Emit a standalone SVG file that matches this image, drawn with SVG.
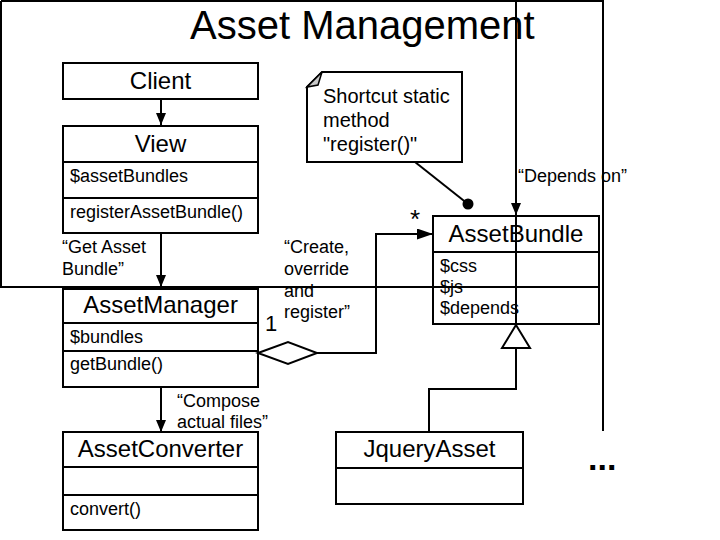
<svg xmlns="http://www.w3.org/2000/svg" width="720" height="540" viewBox="0 0 720 540">
<style>
text{font-family:"Liberation Sans",Arial,sans-serif;fill:#000}
.box{fill:#fff;stroke:#000;stroke-width:2}
.sep{stroke:#000;stroke-width:2}
.cn{font-size:24px;text-anchor:middle}
.at{font-size:18px}
.lbl{font-size:18px}
.ln{fill:none;stroke:#000;stroke-width:2}
</style>
<defs>
<marker id="arr" viewBox="0 0 12 10" refX="12" refY="5" markerWidth="12" markerHeight="10" markerUnits="userSpaceOnUse" orient="auto">
<path d="M0,0 L12,5 L0,10 Z" fill="#000"/>
</marker>
<marker id="arrL" viewBox="0 0 16 11" refX="16" refY="5.5" markerWidth="16" markerHeight="11" markerUnits="userSpaceOnUse" orient="auto">
<path d="M0,0 L16,5.5 L0,11 Z" fill="#000"/>
</marker>
</defs>
<rect width="720" height="540" fill="#fff"/>
<text x="190" y="39" style="font-size:40px">Asset Management</text>

<g id="client">
<rect class="box" x="63" y="63" width="195" height="36"/>
<text class="cn" x="160.5" y="89">Client</text>
</g>
<g id="view">
<rect class="box" x="63" y="126" width="195" height="107"/>
<line class="sep" x1="63" y1="162" x2="258" y2="162"/>
<line class="sep" x1="63" y1="198" x2="258" y2="198"/>
<text class="cn" x="160.5" y="152">View</text>
<text class="at" x="70" y="182">$assetBundles</text>
<text class="at" x="70" y="218">registerAssetBundle()</text>
</g>
<g id="note">
<path class="box" d="M322,72 L462,72 L462,162 L307,162 L307,87 Z"/>
<path d="M307,87 L322,72 L318,85 Z" fill="#c8c8c8" stroke="#000" stroke-width="1.5"/>
<text style="font-size:20px" x="323" y="103">Shortcut static</text>
<text style="font-size:20px" x="323" y="127">method</text>
<text style="font-size:20px" x="323" y="151">"register()"</text>
</g>
<g id="assetmanager">
<rect class="box" x="63" y="289" width="195" height="98"/>
<line class="sep" x1="63" y1="323" x2="258" y2="323"/>
<line class="sep" x1="63" y1="351" x2="258" y2="351"/>
<text class="cn" x="160.5" y="313">AssetManager</text>
<text class="at" x="70" y="343">$bundles</text>
<text class="at" x="70" y="370">getBundle()</text>
</g>
<g id="assetbundle">
<rect class="box" x="433" y="216" width="166" height="108"/>
<line class="sep" x1="433" y1="252" x2="599" y2="252"/>
<text class="cn" x="516" y="242">AssetBundle</text>
<text class="at" x="440" y="272">$css</text>
<text class="at" x="440" y="293">$js</text>
<text class="at" x="440" y="314">$depends</text>
</g>
<g id="assetconverter">
<rect class="box" x="63" y="432" width="195" height="98"/>
<line class="sep" x1="63" y1="467" x2="258" y2="467"/>
<line class="sep" x1="63" y1="495" x2="258" y2="495"/>
<text class="cn" x="160.5" y="457">AssetConverter</text>
<text class="at" x="70" y="515">convert()</text>
</g>
<g id="jqueryasset">
<rect class="box" x="336" y="432" width="187" height="72"/>
<line class="sep" x1="336" y1="468" x2="523" y2="468"/>
<text class="cn" x="429.5" y="457">JqueryAsset</text>
</g>
<g id="more">
<text x="588" y="470" style="font-size:34px;font-weight:bold">...</text>
</g>

<g id="connectors">
<line class="ln" x1="1" y1="1" x2="603" y2="1"/>
<line class="ln" x1="1" y1="1" x2="1" y2="287"/>
<line class="ln" x1="0" y1="287" x2="599" y2="287"/>
<line class="ln" x1="603" y1="0" x2="603" y2="431"/>
<line class="ln" x1="161" y1="99" x2="161" y2="125" marker-end="url(#arr)"/>
<line class="ln" x1="161" y1="233" x2="161" y2="287" marker-end="url(#arr)"/>
<line class="ln" x1="161" y1="387" x2="161" y2="432" marker-end="url(#arr)"/>
<line class="ln" x1="516" y1="0" x2="516" y2="215" marker-end="url(#arr)"/>
<line class="ln" x1="516" y1="215" x2="516" y2="325"/>
<path class="ln" d="M429,432 L429,389 L516,389 L516,348"/>
<path d="M516,325 L530,348 L502,348 Z" fill="#fff" stroke="#000" stroke-width="2"/>
<path d="M258,353 L288,342 L317,353 L288,364 Z" fill="#fff" stroke="#000" stroke-width="2"/>
<path class="ln" d="M317,353 L376,353 L376,234 L433,234" marker-end="url(#arrL)"/>
<line class="ln" x1="415" y1="162" x2="468" y2="204"/>
<circle cx="468" cy="204" r="5.5" fill="#000"/>
<text class="lbl" x="62" y="253">“Get Asset</text>
<text class="lbl" x="62" y="275">Bundle”</text>
<text class="lbl" x="284" y="253">“Create,</text>
<text class="lbl" x="284" y="275">override</text>
<text class="lbl" x="284" y="297">and</text>
<text class="lbl" x="284" y="318">register”</text>
<text class="lbl" x="177" y="407">“Compose</text>
<text class="lbl" x="177" y="428">actual files”</text>
<text class="lbl" x="518" y="182">“Depends on”</text>
<text x="265" y="331" style="font-size:22px">1</text>
<text x="410" y="228" style="font-size:26px">*</text>
</g>
</svg>
